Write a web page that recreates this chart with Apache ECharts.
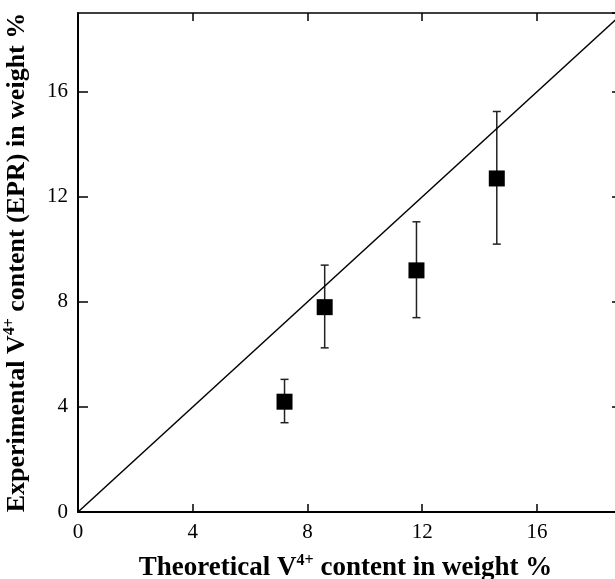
<!DOCTYPE html>
<html>
<head>
<meta charset="utf-8">
<script src="https://cdn.jsdelivr.net/npm/echarts@6/dist/echarts.min.js"></script>
<style>
    html, body {margin: 0; padding: 0; overflow: hidden; background: #fff;}
    #chart {width: 630px; height: 579px;}
</style>
</head>
<body>
<div id="chart"></div>
<script>
// 数据
var theoretical = [7.2, 8.6, 11.8, 14.6];
var experimental = [4.2, 7.8, 9.2, 12.7];
var errLow = [3.4, 6.25, 7.4, 10.2];
var errHigh = [5.05, 9.4, 11.05, 15.25];
var diagonal = [[0, 0], [19, 19]];

var font = 'Liberation Serif';

var points = theoretical.map(function (x, i) { return [x, experimental[i]]; });
var bars = theoretical.map(function (x, i) { return [x, errLow[i], errHigh[i]]; });

var chart = echarts.init(document.getElementById('chart'));

function mainAxis(name, gap, size, tickLen, pad) {
    return {
        type: 'value', min: 0, max: 19, interval: 4,
        name: name, nameLocation: 'middle', nameGap: gap,
        nameTextStyle: {
            fontFamily: font, fontSize: size, fontWeight: 'bold', color: '#000', padding: pad,
            rich: {
                b: {fontFamily: font, fontSize: size, fontWeight: 'bold', color: '#000'},
                sup: {fontFamily: font, fontSize: 16, fontWeight: 'bold', color: '#000', padding: [0, 0, 14, 0]}
            }
        },
        axisLine: {show: true, onZero: false, lineStyle: {color: '#000', width: 2}},
        axisTick: {show: true, inside: true, length: tickLen, lineStyle: {color: '#000', width: 1.5}},
        axisLabel: {fontFamily: font, fontSize: 21, color: '#000', margin: 10, showMaxLabel: false},
        splitLine: {show: false}
    };
}

function mirrorAxis(position, tickLen) {
    return {
        type: 'value', min: 0, max: 19, interval: 4, position: position,
        axisLine: {show: true, onZero: false, lineStyle: {color: '#000', width: 1.5}},
        axisTick: {show: true, inside: true, length: tickLen, lineStyle: {color: '#000', width: 1.5}},
        axisLabel: {show: false},
        splitLine: {show: false}
    };
}

var xMain = mainAxis('{b|Theoretical V}{sup|4+}{b| content in weight %}', 41, 27, 8, [0, 10, 0, 0]);
var yMain = mainAxis('{b|Experimental V}{sup|4+}{b| content (EPR) in weight %}', 46, 26, 10, 0);

chart.setOption({
    animation: false,
    backgroundColor: '#fff',
    grid: {left: 78, right: 7, top: 13, bottom: 67, outerBoundsMode: 'none', containLabel: false},
    xAxis: [xMain, mirrorAxis('top', 8)],
    yAxis: [yMain, mirrorAxis('right', 11)],
    series: [
        {
            type: 'line', data: diagonal, showSymbol: false, silent: true,
            lineStyle: {color: '#000', width: 1.5}
        },
        {
            type: 'custom', data: bars, silent: true,
            renderItem: function (params, api) {
                var x = api.value(0);
                var lo = api.coord([x, api.value(1)]);
                var hi = api.coord([x, api.value(2)]);
                var cap = 4;
                var st = {stroke: '#222', lineWidth: 1.5};
                return {
                    type: 'group',
                    children: [
                        {type: 'line', shape: {x1: lo[0], y1: lo[1], x2: hi[0], y2: hi[1]}, style: st},
                        {type: 'line', shape: {x1: lo[0] - cap, y1: lo[1], x2: lo[0] + cap, y2: lo[1]}, style: st},
                        {type: 'line', shape: {x1: hi[0] - cap, y1: hi[1], x2: hi[0] + cap, y2: hi[1]}, style: st}
                    ]
                };
            }
        },
        {
            type: 'scatter', data: points, symbol: 'rect', symbolSize: 16,
            itemStyle: {color: '#000', opacity: 1}
        }
    ]
});
</script>
</body>
</html>
